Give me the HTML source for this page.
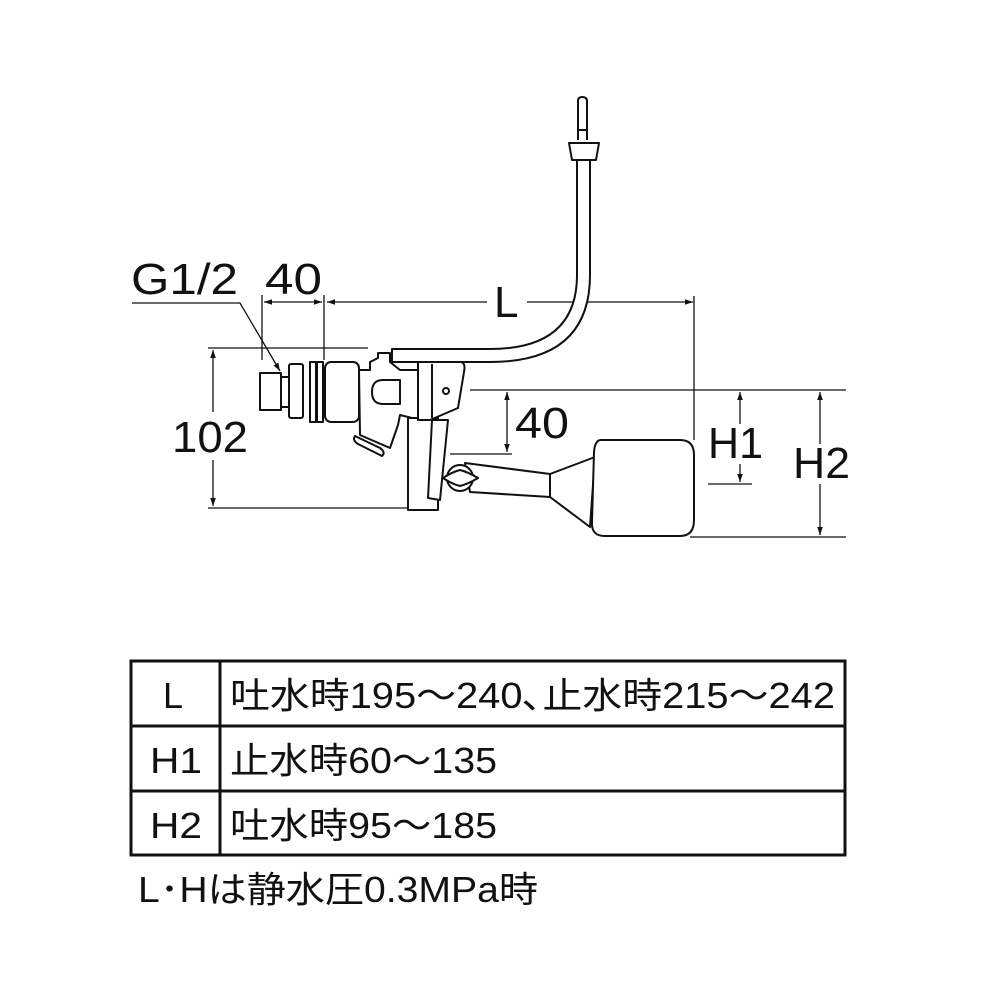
<!DOCTYPE html>
<html><head><meta charset="utf-8"><style>
body{margin:0;background:#fff}
svg{display:block}
text{font-family:"Liberation Sans","Noto Sans CJK JP",sans-serif;fill:#111}
</style></head><body>
<svg width="1000" height="1000" viewBox="0 0 1000 1000" xmlns="http://www.w3.org/2000/svg">
<defs>
<marker id="a" viewBox="0 0 10 10" refX="10" refY="5" markerWidth="12" markerHeight="8" markerUnits="userSpaceOnUse" orient="auto-start-reverse"><path d="M0,1.5 L10,5 L0,8.5z" fill="#111"/></marker>
</defs>
<g stroke="#111" stroke-width="1.3" fill="none">
<path d="M132,303 H240 L280,371" marker-end="url(#a)"/>
<line x1="262" y1="295" x2="262" y2="360"/>
<line x1="324" y1="295" x2="324" y2="360"/>
<line x1="264" y1="302" x2="322" y2="302" marker-start="url(#a)" marker-end="url(#a)"/>
<line x1="327" y1="302" x2="487" y2="302" marker-start="url(#a)"/>
<line x1="527" y1="302" x2="693" y2="302" marker-end="url(#a)"/>
<line x1="694" y1="296" x2="694" y2="440"/>
<line x1="208" y1="348" x2="368" y2="348"/>
<line x1="208" y1="508" x2="408" y2="508"/>
<line x1="213" y1="350" x2="213" y2="506" marker-start="url(#a)" marker-end="url(#a)"/>
<line x1="470" y1="390" x2="846" y2="390"/>
<line x1="450" y1="454" x2="512" y2="454"/>
<line x1="507" y1="392" x2="507" y2="452" marker-start="url(#a)" marker-end="url(#a)"/>
<line x1="708" y1="484" x2="752" y2="484"/>
<line x1="740" y1="392" x2="740" y2="482" marker-start="url(#a)" marker-end="url(#a)"/>
<line x1="690" y1="537" x2="846" y2="537"/>
<line x1="820" y1="392" x2="820" y2="535" marker-start="url(#a)" marker-end="url(#a)"/>
</g>
<!-- white gaps behind labels -->
<g fill="#fff">
<rect x="168" y="412" width="84" height="48"/>
<rect x="704" y="424" width="62" height="40"/>
<rect x="790" y="444" width="64" height="40"/>
</g>
<g stroke="#111" stroke-width="2" fill="#fff" stroke-linejoin="round">
<path d="M577,160 V275 Q577,349 490,349 H392 V362 H490 Q590,362 590,275 V160"/>
<path d="M569,143 H599 L596,160 H572 Z"/>
<path d="M578,140 V101 Q578,97 582,97 Q587,97 587,101 V140"/>
<line x1="577" y1="130" x2="588" y2="130"/>
<path d="M465,463 L550,474 L595,457 L590,527 L550,497 L470,492 Z"/>
<line x1="550" y1="474" x2="550" y2="497"/>
<path d="M601,440 H680 Q694,440 694,455 V520 Q694,536 680,536 H605 Q591,536 592,522 L594,452 Q595,440 601,440 Z"/>
<rect x="260" y="373" width="21" height="37"/>
<rect x="281" y="377" width="8" height="30"/>
<rect x="289" y="364" width="14" height="54" rx="2"/>
<rect x="310" y="362" width="6" height="60"/>
<rect x="317" y="362" width="6" height="60"/>
<rect x="325" y="362" width="34" height="60" rx="6"/>
<path d="M359,370 H370 V362 L378,358 V353 H390 V362 L400,370 H420 L420,420 L400,415 L398,425 L390,448 L360,435 Z"/>
<path d="M355,436 L380,448 Q386,452 382,456 L358,444 Q352,440 355,436Z"/>
<path d="M383,380 H400 V404 H383 Q372,404 372,392 Q372,380 383,380Z"/>
<rect x="408" y="418" width="30" height="92"/>
<path d="M418,362 H460 Q466,362 464,372 L458,408 L430,420 H418 Z"/>
<line x1="432" y1="364" x2="432" y2="418"/>
<circle cx="446" cy="391" r="3"/>
<path d="M432,420 L448,420 L440,500 L428,498 Z"/>
<circle cx="460" cy="478" r="13"/>
<path d="M443,478 Q452,472 460,470 Q468,472 478,478 Q468,484 460,486 Q452,484 443,478Z"/>
</g>
<g font-size="44">
<text x="131" y="294" textLength="107" lengthAdjust="spacingAndGlyphs">G1/2</text>
<text x="265" y="294" textLength="57" lengthAdjust="spacingAndGlyphs">40</text>
<text x="494" y="317">L</text>
<text x="172" y="452" textLength="76" lengthAdjust="spacingAndGlyphs">102</text>
<text x="515" y="438" textLength="54" lengthAdjust="spacingAndGlyphs">40</text>
<text x="708" y="458" textLength="55" lengthAdjust="spacingAndGlyphs">H1</text>
<text x="793" y="478" textLength="57" lengthAdjust="spacingAndGlyphs">H2</text>
</g>
<g stroke="#111" stroke-width="3" fill="none">
<rect x="131" y="661" width="714" height="194"/>
<line x1="131" y1="726" x2="845" y2="726"/>
<line x1="131" y1="791" x2="845" y2="791"/>
<line x1="220" y1="661" x2="220" y2="855"/>
</g>
<g font-size="36">
<text x="163" y="708">L</text>
<text x="150" y="773" textLength="52" lengthAdjust="spacingAndGlyphs">H1</text>
<text x="150" y="838" textLength="52" lengthAdjust="spacingAndGlyphs">H2</text>
<text x="230" y="708" textLength="605" lengthAdjust="spacingAndGlyphs">吐水時195～240､止水時215～242</text>
<text x="230" y="773" textLength="267" lengthAdjust="spacingAndGlyphs">止水時60～135</text>
<text x="230" y="838" textLength="267" lengthAdjust="spacingAndGlyphs">吐水時95～185</text>
<text x="138" y="902" textLength="400" lengthAdjust="spacingAndGlyphs">L･Hは静水圧0.3MPa時</text>
</g>
</svg>
</body></html>
